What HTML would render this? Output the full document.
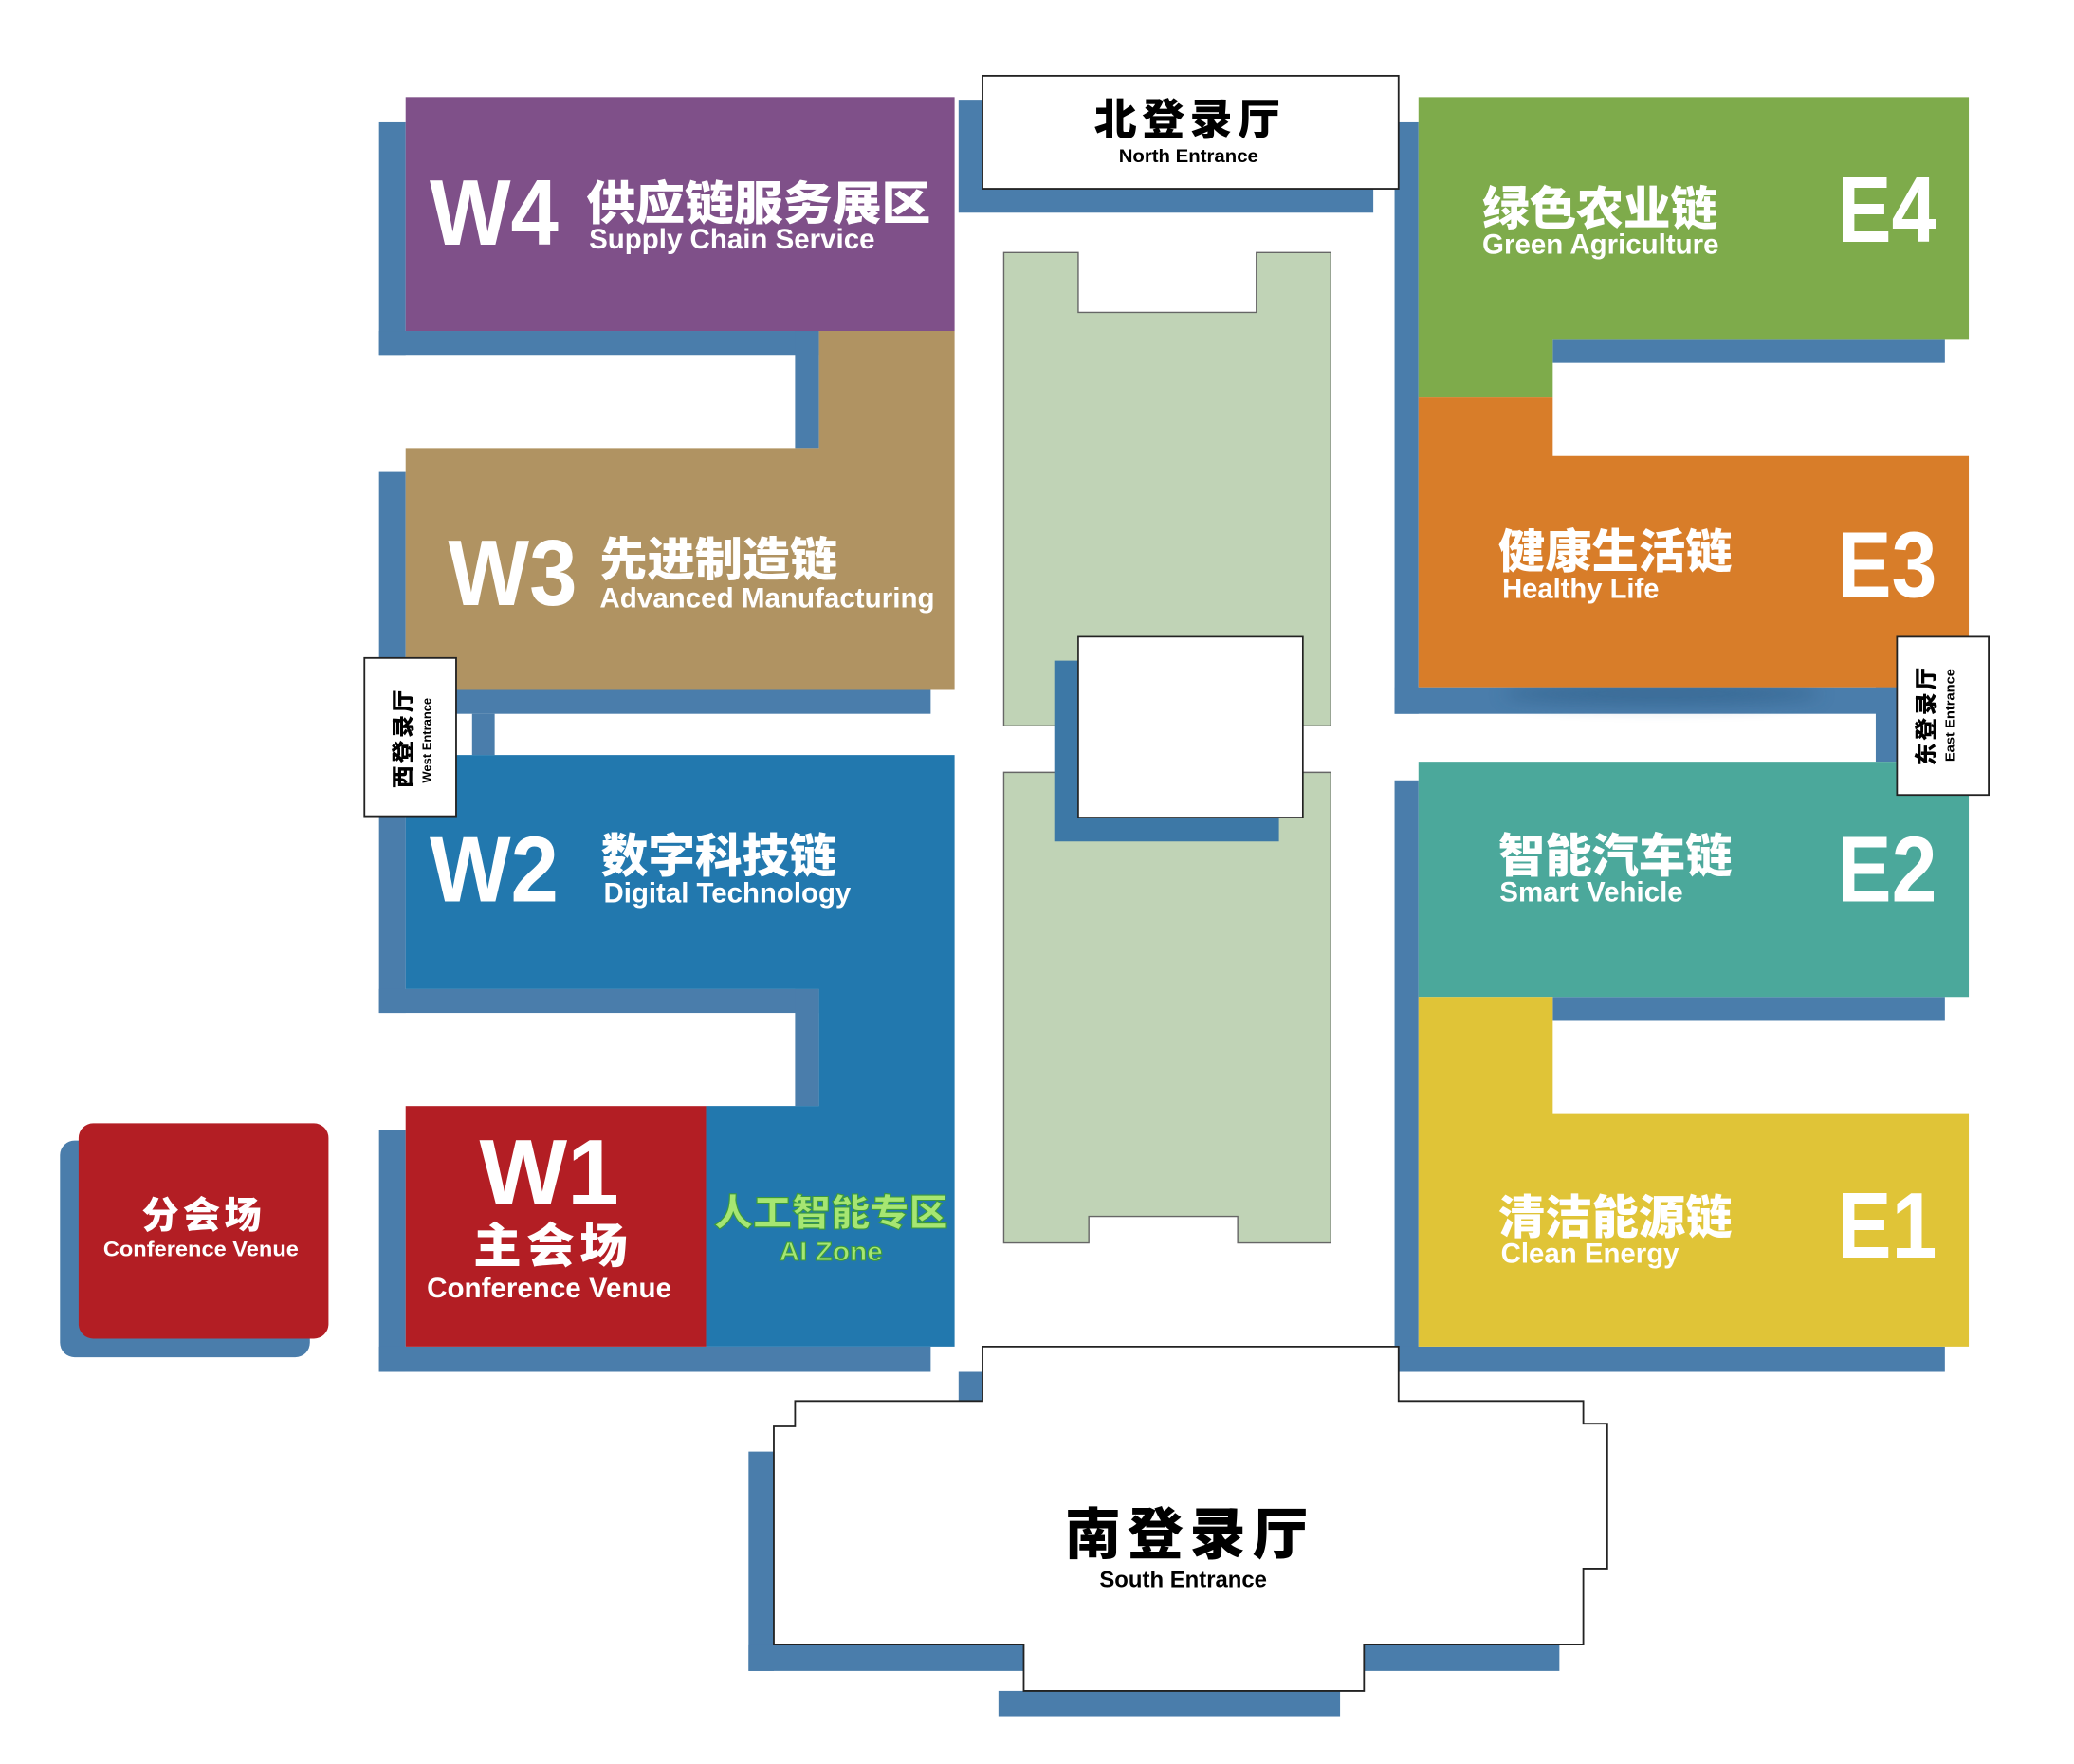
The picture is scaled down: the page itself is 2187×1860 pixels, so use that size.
<!DOCTYPE html>
<html><head><meta charset="utf-8"><style>
html,body{margin:0;padding:0;background:#fff}
svg{display:block}
.zh{font-family:"Liberation Sans","Noto Sans CJK SC",sans-serif;font-weight:900}
.en{font-family:"Liberation Sans","Noto Sans CJK SC",sans-serif;font-weight:700}
</style></head><body>
<svg width="2187" height="1860" viewBox="0 0 1560 1327" xmlns="http://www.w3.org/2000/svg">
<defs><filter id="bl" x="-20%" y="-200%" width="140%" height="500%"><feGaussianBlur stdDeviation="6"/></filter></defs>
<rect width="1560" height="1327" fill="#fff"/>
<g fill="#4a7dab">
<rect x="285" y="92" width="20" height="175"/>
<rect x="285" y="249" width="331" height="18"/>
<rect x="598" y="249" width="18" height="88"/>
<rect x="285" y="355" width="20" height="407"/>
<rect x="305" y="519" width="395" height="18"/>
<rect x="355" y="537" width="17" height="31"/>
<rect x="285" y="744" width="331" height="18"/>
<rect x="598" y="744" width="18" height="88"/>
<rect x="285" y="850" width="20" height="182"/>
<rect x="285" y="1013" width="415" height="19"/>
<rect x="45" y="858" width="188" height="163" rx="11"/>
<rect x="721" y="75" width="312" height="85"/>
<rect x="1049" y="92" width="18" height="445"/>
<rect x="1168" y="255" width="295" height="18"/>
<rect x="1049" y="517" width="380" height="20"/>
<rect x="1411" y="517" width="16" height="56"/>
<rect x="1049" y="587" width="18" height="445"/>
<rect x="1168" y="750" width="295" height="18"/>
<rect x="1052" y="1013" width="411" height="19"/>
<rect x="721" y="1032" width="18" height="22"/>
<rect x="563" y="1092" width="19" height="165"/>
<rect x="563" y="1237" width="207" height="20"/>
<rect x="751" y="1272" width="257" height="19"/>
<rect x="1026" y="1237" width="147" height="20"/>
</g>
<ellipse cx="1250" cy="522" rx="120" ry="8" fill="#2f5f88" opacity="0.6" filter="url(#bl)"/>
<path d="M755 190H811V235H945V190H1001V546H755Z" fill="#c0d3b6" stroke="#666" stroke-width="1"/>
<path d="M755 581H1001V935H931V915H819V935H755Z" fill="#c0d3b6" stroke="#666" stroke-width="1"/>
<rect x="793" y="497" width="169" height="136" fill="#3d78a6"/>
<rect x="811" y="479" width="169" height="136" fill="#fff" stroke="#222" stroke-width="1.2"/>
<rect x="305" y="73" width="413" height="176" fill="#7f5089"/>
<path d="M616 249H718V519H305V337H616Z" fill="#b09362"/>
<path d="M305 568H718V1013H531V832H616V744H305Z" fill="#2278ae"/>
<rect x="305" y="832" width="226" height="181" fill="#b31e24"/>
<rect x="59" y="845" width="188" height="162" rx="11" fill="#b31e24"/>
<path d="M1067 73H1481V255H1168V299H1067Z" fill="#7eab4b"/>
<path d="M1067 299H1168V343H1481V517H1067Z" fill="#d87d29"/>
<rect x="1067" y="573" width="414" height="177" fill="#4ba89b"/>
<path d="M1067 750H1168V838H1481V1013H1067Z" fill="#e0c437"/>
<rect x="739" y="57" width="313" height="85" fill="#fff" stroke="#222" stroke-width="1.3"/>
<rect x="274" y="495" width="69" height="119" fill="#fff" stroke="#222" stroke-width="1.3"/>
<rect x="1427" y="479" width="69" height="119" fill="#fff" stroke="#222" stroke-width="1.3"/>
<path d="M739 1013H1052V1054H1191V1071H1209V1180H1191V1237H1026V1272H770V1237H582V1073H598V1054H739Z" fill="#fff" stroke="#222" stroke-width="1.3"/>
<g fill="#fff">
<text class="en" x="323" y="184" font-size="70" textLength="97" lengthAdjust="spacingAndGlyphs">W4</text>
<text class="zh" x="441" y="165" font-size="35" textLength="259" lengthAdjust="spacingAndGlyphs">供应链服务展区</text>
<text class="en" x="443" y="187" font-size="21" textLength="215" lengthAdjust="spacingAndGlyphs">Supply Chain Service</text>
<text class="en" x="337" y="455" font-size="70" textLength="97" lengthAdjust="spacingAndGlyphs">W3</text>
<text class="zh" x="451" y="433" font-size="35" textLength="179" lengthAdjust="spacingAndGlyphs">先进制造链</text>
<text class="en" x="451" y="457" font-size="21" textLength="252" lengthAdjust="spacingAndGlyphs">Advanced Manufacturing</text>
<text class="en" x="323" y="678" font-size="70" textLength="97" lengthAdjust="spacingAndGlyphs">W2</text>
<text class="zh" x="452" y="656" font-size="35" textLength="177" lengthAdjust="spacingAndGlyphs">数字科技链</text>
<text class="en" x="454" y="679" font-size="21" textLength="186" lengthAdjust="spacingAndGlyphs">Digital Technology</text>
<text class="en" x="413" y="906" font-size="70" text-anchor="middle">W1</text>
<text class="zh" x="416" y="950" font-size="36" text-anchor="middle" letter-spacing="4">主会场</text>
<text class="en" x="413" y="976" font-size="21" text-anchor="middle" textLength="184" lengthAdjust="spacingAndGlyphs">Conference Venue</text>
<text class="zh" x="153" y="924" font-size="28" text-anchor="middle" letter-spacing="3">分会场</text>
<text class="en" x="151" y="945" font-size="16" text-anchor="middle" textLength="147" lengthAdjust="spacingAndGlyphs">Conference Venue</text>
<text class="zh" x="1115" y="169" font-size="35" textLength="177" lengthAdjust="spacingAndGlyphs">绿色农业链</text>
<text class="en" x="1115" y="191" font-size="21" textLength="178" lengthAdjust="spacingAndGlyphs">Green Agriculture</text>
<text class="en" x="1382" y="182" font-size="70" textLength="75" lengthAdjust="spacingAndGlyphs">E4</text>
<text class="zh" x="1127" y="427" font-size="35" textLength="176" lengthAdjust="spacingAndGlyphs">健康生活链</text>
<text class="en" x="1130" y="450" font-size="21" textLength="118" lengthAdjust="spacingAndGlyphs">Healthy Life</text>
<text class="en" x="1382" y="449" font-size="70" textLength="75" lengthAdjust="spacingAndGlyphs">E3</text>
<text class="zh" x="1127" y="656" font-size="35" textLength="176" lengthAdjust="spacingAndGlyphs">智能汽车链</text>
<text class="en" x="1128" y="678" font-size="21" textLength="138" lengthAdjust="spacingAndGlyphs">Smart Vehicle</text>
<text class="en" x="1382" y="678" font-size="70" textLength="75" lengthAdjust="spacingAndGlyphs">E2</text>
<text class="zh" x="1127" y="928" font-size="35" textLength="176" lengthAdjust="spacingAndGlyphs">清洁能源链</text>
<text class="en" x="1129" y="950" font-size="21" textLength="134" lengthAdjust="spacingAndGlyphs">Clean Energy</text>
<text class="en" x="1382" y="946" font-size="70" textLength="75" lengthAdjust="spacingAndGlyphs">E1</text>
</g>
<g fill="#a6e672" stroke="#3c9a3c" stroke-width="0.8">
<text class="zh" x="625" y="922" font-size="28" text-anchor="middle" textLength="176" lengthAdjust="spacingAndGlyphs">人工智能专区</text>
<text class="en" x="625" y="948" font-size="20" text-anchor="middle" textLength="78" lengthAdjust="spacingAndGlyphs">AI Zone</text>
</g>
<g fill="#000">
<text class="zh" x="895" y="101" font-size="32" text-anchor="middle" letter-spacing="4">北登录厅</text>
<text class="en" x="894" y="122" font-size="14" text-anchor="middle" textLength="105" lengthAdjust="spacingAndGlyphs">North Entrance</text>
<text class="zh" x="895" y="1169" font-size="42" text-anchor="middle" letter-spacing="5">南登录厅</text>
<text class="en" x="890" y="1194" font-size="17" text-anchor="middle" textLength="126" lengthAdjust="spacingAndGlyphs">South Entrance</text>
<g transform="translate(309 555) rotate(-90)"><text class="zh" x="0" y="0" font-size="17" text-anchor="middle" letter-spacing="2">西登录厅</text></g>
<g transform="translate(324 557) rotate(-90)"><text class="en" x="0" y="0" font-size="9" text-anchor="middle" textLength="64" lengthAdjust="spacingAndGlyphs">West Entrance</text></g>
<g transform="translate(1455 538) rotate(-90)"><text class="zh" x="0" y="0" font-size="17" text-anchor="middle" letter-spacing="2">东登录厅</text></g>
<g transform="translate(1470 538) rotate(-90)"><text class="en" x="0" y="0" font-size="9" text-anchor="middle" textLength="70" lengthAdjust="spacingAndGlyphs">East Entrance</text></g>
</g>
</svg>
</body></html>
